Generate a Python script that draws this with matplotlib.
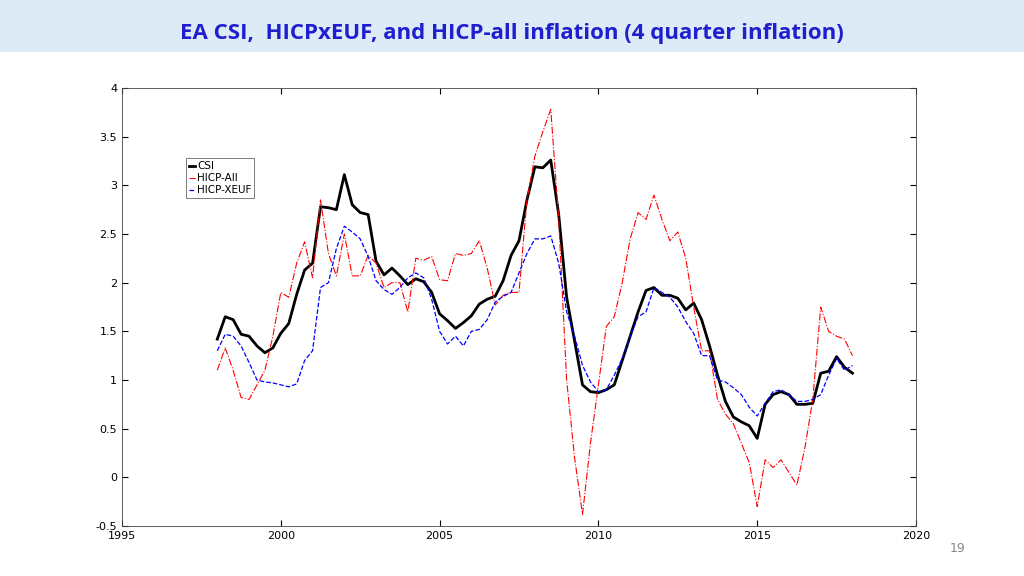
import numpy as np
import matplotlib
matplotlib.use('Agg')
import matplotlib.pyplot as plt
from matplotlib.patches import Rectangle

# quarterly 1998Q1 .. 2018Q1
years = 1998 + np.arange(81) / 4.0
csi = [1.42, 1.65, 1.62, 1.47, 1.45, 1.35, 1.28, 1.33,
       1.48, 1.58, 1.88, 2.13, 2.20, 2.78, 2.77, 2.75,
       3.11, 2.80, 2.72, 2.70, 2.22, 2.08, 2.15, 2.07,
       1.98, 2.04, 2.01, 1.90, 1.68, 1.61, 1.53, 1.59,
       1.66, 1.78, 1.83, 1.86, 2.02, 2.28, 2.43, 2.85,
       3.19, 3.18, 3.26, 2.70, 1.85, 1.40, 0.95, 0.88,
       0.87, 0.90, 0.95, 1.20, 1.45, 1.70, 1.92, 1.95,
       1.87, 1.87, 1.84, 1.72, 1.79, 1.62, 1.35, 1.05,
       0.78, 0.62, 0.57, 0.53, 0.40, 0.75, 0.85, 0.88,
       0.85, 0.75, 0.75, 0.76, 1.07, 1.09, 1.24, 1.13, 1.07]
hicp_all = [1.10, 1.33, 1.10, 0.82, 0.80, 0.95, 1.10, 1.45,
            1.90, 1.85, 2.20, 2.42, 2.05, 2.85, 2.30, 2.07,
            2.50, 2.07, 2.07, 2.28, 2.20, 1.95, 2.00, 2.00,
            1.70, 2.25, 2.23, 2.27, 2.03, 2.02, 2.30, 2.28,
            2.30, 2.43, 2.15, 1.77, 1.87, 1.90, 1.90, 2.85,
            3.30, 3.55, 3.78, 2.65, 1.00, 0.20, -0.38, 0.35,
            0.95, 1.55, 1.65, 2.00, 2.45, 2.72, 2.65, 2.90,
            2.65, 2.43, 2.52, 2.25, 1.75, 1.30, 1.30, 0.80,
            0.65, 0.55, 0.35, 0.15, -0.30, 0.18, 0.10, 0.18,
            0.05, -0.08, 0.30, 0.80, 1.75, 1.50, 1.45, 1.42, 1.25]
hicp_xeuf = [1.30, 1.47, 1.45, 1.35, 1.18, 1.00, 0.98, 0.97,
             0.95, 0.93, 0.96, 1.20, 1.30, 1.95, 2.00, 2.35,
             2.58, 2.52, 2.45, 2.27, 2.02, 1.93, 1.88, 1.95,
             2.05, 2.10, 2.05, 1.83, 1.50, 1.37, 1.45, 1.35,
             1.50, 1.52, 1.62, 1.80, 1.86, 1.90, 2.10, 2.30,
             2.45, 2.45, 2.48, 2.20, 1.70, 1.45, 1.15, 0.98,
             0.88, 0.90, 1.05, 1.22, 1.45, 1.65, 1.70, 1.95,
             1.90, 1.85, 1.75, 1.60, 1.48, 1.25, 1.25, 1.00,
             0.98, 0.92, 0.85, 0.72, 0.63, 0.76, 0.88, 0.90,
             0.85, 0.78, 0.78, 0.80, 0.85, 1.05, 1.22, 1.10, 1.15]

fig = plt.figure(figsize=(10.24, 5.76), dpi=100)
fig.patches.append(Rectangle((0, 1 - 52/576), 1, 52/576, transform=fig.transFigure,
                             facecolor='#dcebf5', edgecolor='none', zorder=0))
fig.text(0.5, 1 - 34/576, 'EA CSI,  HICPxEUF, and HICP-all inflation (4 quarter inflation)',
         ha='center', va='center', fontsize=16, fontweight='bold', color='#1f1fd0',
         family='Open Sans')
fig.text(958/1024, 1 - 549/576, '19', ha='center', va='center', fontsize=9, color='#888888')

ax = fig.add_axes([122/1024, 1 - 526/576, 794/1024, 438/576])
ax.plot(years, csi, color='black', lw=2, label='CSI')
ax.plot(years, hicp_all, color='red', lw=0.8, ls='-.', label='HICP-All')
ax.plot(years, hicp_xeuf, color='blue', lw=0.9, ls='--', label='HICP-XEUF')
ax.set_xlim(1995, 2020)
ax.set_ylim(-0.5, 4)
ax.set_xticks(range(1995, 2021, 5))
ax.set_yticks(np.arange(-0.5, 4.01, 0.5))
ax.set_yticklabels(['-0.5', '0', '0.5', '1', '1.5', '2', '2.5', '3', '3.5', '4'])
ax.tick_params(direction='in', labelsize=8, top=True, right=True, length=4)
for s in ax.spines.values():
    s.set_color('#444444')
    s.set_linewidth(0.6)
leg = ax.legend(loc='upper left', bbox_to_anchor=(0.08, 0.84), fontsize=7.5,
                frameon=True, fancybox=False, handlelength=0.6, handletextpad=0.2,
                borderpad=0.3, labelspacing=0.2, borderaxespad=0)
leg.get_frame().set_edgecolor('#444444')
leg.get_frame().set_linewidth(0.6)

fig.savefig('out.png', dpi=100)
